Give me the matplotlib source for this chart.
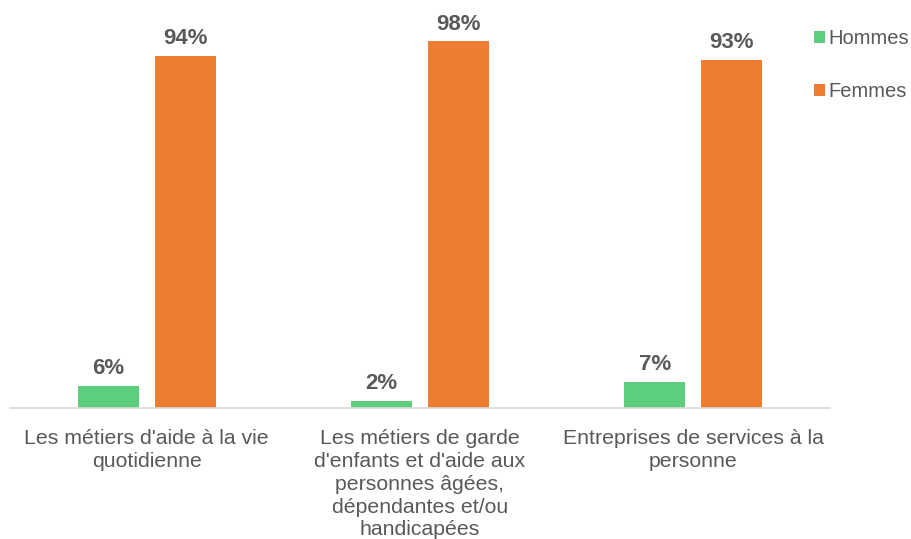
import matplotlib.pyplot as plt
import numpy as np

plt.rcParams['font.family'] = ['Liberation Sans', 'DejaVu Sans']

categories = [
    "Les métiers d'aide à la vie\nquotidienne",
    "Les métiers de garde\nd'enfants et d'aide aux\npersonnes âgées,\ndépendantes et/ou\nhandicapées",
    "Entreprises de services à la\npersonne",
]
hommes = [0.06, 0.02, 0.07]
femmes = [0.94, 0.98, 0.93]

green = "#5DCE7E"
orange = "#ED7D31"
grey_text = "#595959"

W, H = 912, 539
fig = plt.figure(figsize=(W / 100, H / 100), dpi=100)
# axes in pixel coordinates: left 10, right 830, baseline 408, 100% at ~34
ax = fig.add_axes([10 / W, (H - 408) / H, 820 / W, 374 / H])

x = np.arange(len(categories))
bw = 61 / 273.3
gap = 16 / 273.3
b1 = ax.bar(x - (bw + gap) / 2, hommes, bw, color=green, label="Hommes")
b2 = ax.bar(x + (bw + gap) / 2, femmes, bw, color=orange, label="Femmes")

for bars, vals in [(b1, hommes), (b2, femmes)]:
    for rect, v in zip(bars, vals):
        ax.annotate(f"{round(v * 100)}%", (rect.get_x() + rect.get_width() / 2, v),
                    xytext=(0, 5), textcoords="offset points", ha="center", va="bottom",
                    fontsize=16, fontweight="bold", color=grey_text)

ax.set_xlim(-0.5, 2.5)
ax.set_ylim(0, 1.0)
ax.set_xticks(x)
ax.set_xticklabels(categories, fontsize=15.3, color=grey_text, linespacing=1.26)
ax.tick_params(axis="x", length=0, pad=15)
ax.set_yticks([])
for s in ["top", "right", "left"]:
    ax.spines[s].set_visible(False)
ax.spines["bottom"].set_color("#D9D9D9")
ax.spines["bottom"].set_linewidth(1.2)
ax.patch.set_alpha(0)

fig.legend(handles=[b1, b2], loc="upper left", bbox_to_anchor=(814 / W, 1 - 29 / H),
           frameon=False, fontsize=14.5, labelcolor=grey_text, handlelength=0.55,
           handleheight=0.55, handletextpad=0.15, labelspacing=1.7, borderaxespad=0,
           borderpad=0)

fig.savefig("out.png", dpi=100)
